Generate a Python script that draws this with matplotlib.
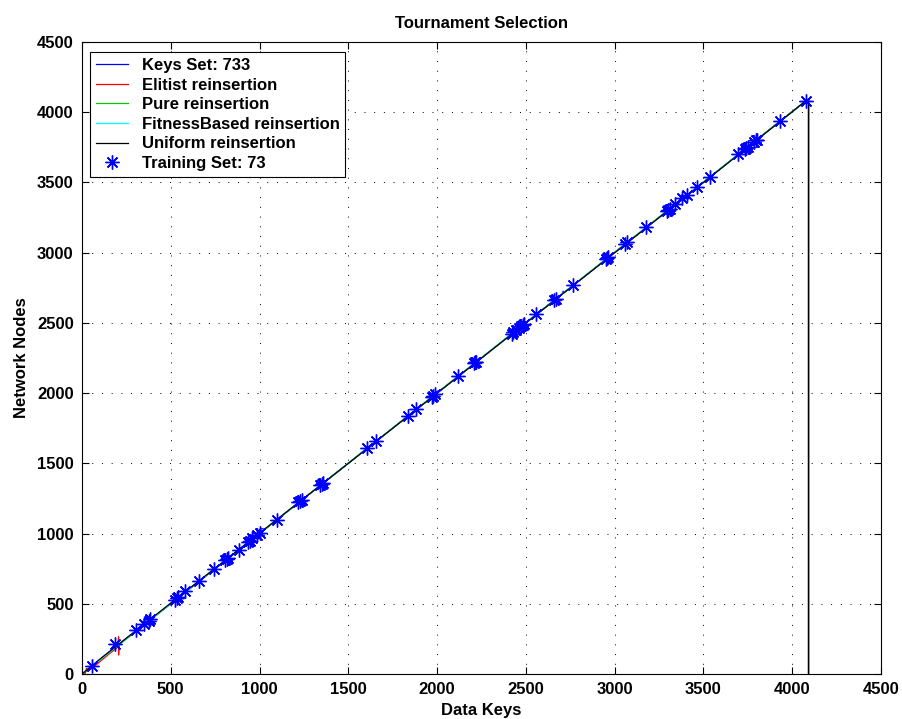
import matplotlib
matplotlib.use("Agg")
import matplotlib.pyplot as plt

plt.rcParams['font.family'] = ['Liberation Sans', 'DejaVu Sans']

# Keys set line (733 keys, drawn through breakpoints)
keys_x = [0, 200, 600, 990, 1000, 1015, 1030, 1500, 1990, 2000, 2010, 2440, 2450, 2465, 2700, 2710, 2720, 3000, 3500, 3900, 4077, 4093, 4093]
keys_y = [0, 205, 600, 990, 1030, 1035, 1030, 1500, 1990, 2015, 2010, 2440, 2475, 2465, 2700, 2725, 2720, 3000, 3500, 3905, 4081, 4093, 0]

elit_x = [0, 18, 25, 30, 60, 150, 200, 206, 206, 210, 400, 1000, 2000, 3000, 4077, 4093, 4093]
elit_y = [0, 0, 40, 20, 45, 140, 190, 265, 135, 210, 400, 1000, 2000, 3000, 4081, 4093, 0]

pure_x = [0, 4077, 4093, 4093]
pure_y = [0, 4081, 4093, 0]

fit_x = [0, 4077, 4093, 4093]
fit_y = [0, 4081, 4093, 0]

unif_x = [0, 100, 500, 1000, 1500, 2000, 2500, 3000, 3500, 4077, 4091, 4091]
unif_y = [0, 105, 505, 1003, 1500, 2000, 2500, 3000, 3500, 4081, 4091, 0]

train_x = [56, 188, 304, 347, 375, 383, 522, 535, 540, 582, 661, 741, 807, 818, 820, 882,
           933, 948, 960, 985, 1002, 1098, 1218, 1230, 1237, 1340, 1350, 1359, 1607, 1655,
           1834, 1881, 1969, 1975, 1988, 2119, 2209, 2215, 2218, 2419, 2430, 2444, 2463,
           2470, 2481, 2490, 2556, 2658, 2669, 2763, 2950, 2955, 2963, 3057, 3070, 3179,
           3292, 3301, 3310, 3339, 3382, 3408, 3464, 3536, 3695, 3733, 3742, 3750, 3784,
           3795, 3800, 3930, 4077]
train_y = [60, 215, 310, 355, 380, 390, 530, 540, 545, 590, 665, 745, 812, 822, 825, 885,
           938, 950, 965, 990, 1005, 1100, 1222, 1235, 1240, 1345, 1355, 1362, 1612, 1660,
           1838, 1885, 1972, 1980, 1992, 2122, 2212, 2220, 2222, 2422, 2435, 2448, 2466,
           2475, 2485, 2495, 2560, 2662, 2672, 2768, 2955, 2960, 2968, 3060, 3075, 3184,
           3296, 3306, 3314, 3344, 3386, 3412, 3468, 3542, 3700, 3738, 3747, 3755, 3789,
           3800, 3805, 3935, 4081]

x_ticks = [0, 500, 1000, 1500, 2000, 2500, 3000, 3500, 4000, 4500]
y_ticks = [0, 500, 1000, 1500, 2000, 2500, 3000, 3500, 4000, 4500]

FS = 12
fig = plt.figure(figsize=(9.03, 7.19), dpi=100)
ax = fig.add_axes([82/903, 45/719, 799/903, 632/719])

lw = 0.9
ax.plot(keys_x, keys_y, color='#0000ff', lw=lw, label='Keys Set: 733')
ax.plot(elit_x, elit_y, color='#ff0000', lw=lw, label='Elitist reinsertion')
ax.plot(pure_x, pure_y, color='#00cc00', lw=lw, label='Pure reinsertion')
ax.plot(fit_x, fit_y, color='#00ffff', lw=lw, label='FitnessBased reinsertion')
ax.plot(unif_x, unif_y, color='#000000', lw=lw, label='Uniform reinsertion')
ax.plot(train_x, train_y, ls='none', marker=(8, 2, 0), color='#0000ff', ms=10,
        markeredgewidth=1.0, label='Training Set: 73')
ax.set_xlim(0, 4500)
ax.set_ylim(0, 4500)
ax.set_xticks(x_ticks)
ax.set_yticks(y_ticks)
ax.tick_params(direction='in', length=5, width=0.8, top=True, right=True,
               labelsize=FS, pad=6)
for lab in ax.get_xticklabels() + ax.get_yticklabels():
    lab.set_fontweight('bold')
ax.grid(True, color='black', linestyle=(0, (1, 9)), linewidth=0.7)
for sp in ax.spines.values():
    sp.set_linewidth(0.8)

ax.set_title('Tournament Selection', fontsize=FS, fontweight='bold', pad=10)
ax.set_xlabel('Data Keys', fontsize=FS, fontweight='bold', labelpad=4)
ax.set_ylabel('Network Nodes', fontsize=FS, fontweight='bold', labelpad=6)

leg = ax.legend(loc='upper left', bbox_to_anchor=(8/799, 1 - 10/632), fancybox=False,
                framealpha=1, edgecolor='black', borderpad=0.35, labelspacing=0.28,
                handlelength=1.95, handletextpad=0.8, borderaxespad=0,
                prop={'weight': 'bold', 'size': 12})
leg.get_frame().set_linewidth(0.8)

fig.savefig('out.png', dpi=100)
